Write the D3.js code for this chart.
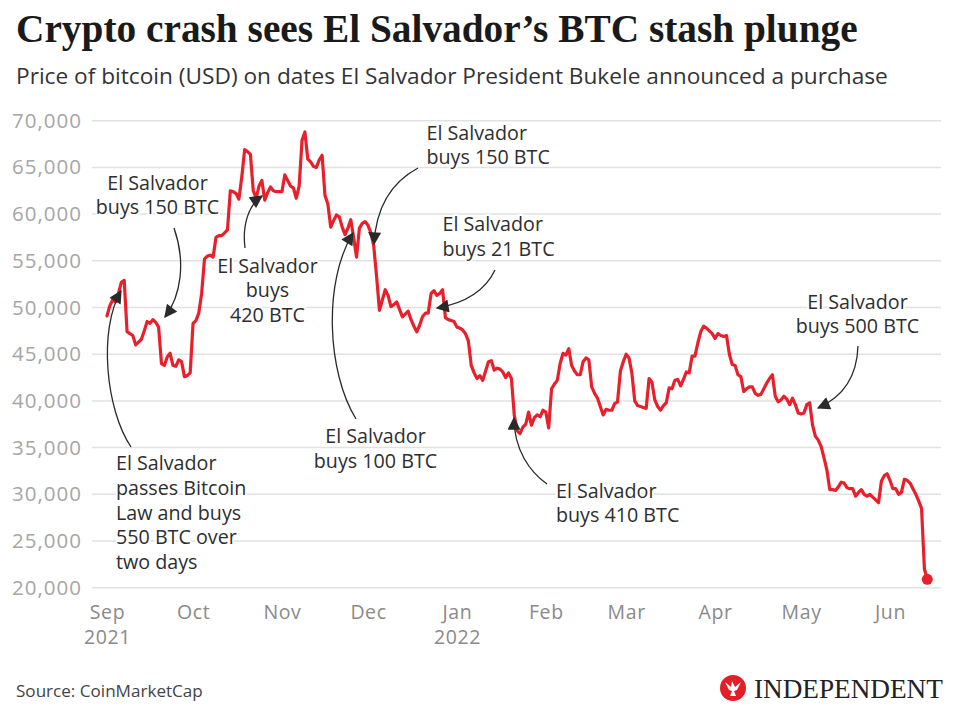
<!DOCTYPE html>
<html>
<head>
<meta charset="utf-8">
<script src="https://cdn.jsdelivr.net/npm/d3@7"></script>
<style>
  html, body { margin: 0; padding: 0; background: #fff; }
  svg { display: block; }
</style>
</head>
<body>
<svg id="chart" width="960" height="720"></svg>
<script>
// ---------------- DATA ----------------
const titleText = "Crypto crash sees El Salvador\u2019s BTC stash plunge";
const subtitleText = "Price of bitcoin (USD) on dates El Salvador President Bukele announced a purchase";
const sourceText = "Source: CoinMarketCap";
const startDate = "2021-09-01";
// daily price in thousands of USD, one per day from startDate
const pricesK = [
  // Sep 2021
  49.1, 50.2, 50.8, 50.6, 51.5, 52.7, 52.9, 47.4, 47.2, 47.0,
  46.0, 46.3, 46.6, 47.5, 48.5, 48.3, 48.7, 48.4, 47.9, 44.0,
  43.8, 44.7, 45.1, 43.8, 43.7, 44.4, 44.2, 42.6, 42.7, 43.0,
  // Oct
  48.3, 48.6, 49.4, 51.5, 55.2, 55.5, 55.6, 55.4, 57.5, 57.7,
  57.7, 58.0, 58.3, 62.5, 62.4, 62.2, 61.6, 64.0, 66.9, 66.7,
  66.4, 62.5, 61.7, 63.0, 63.6, 61.5, 62.3, 62.9, 62.5, 62.4,
  62.4,
  // Nov
  62.4, 64.2, 63.6, 63.0, 62.8, 61.7, 63.0, 67.9, 68.8, 65.9,
  65.6, 65.1, 65.0, 65.8, 66.3, 62.0, 61.1, 58.6, 59.3, 59.9,
  59.7, 58.6, 57.8, 58.5, 59.4, 57.5, 55.4, 58.5, 59.0, 59.2,
  // Dec
  58.8, 58.0, 56.6, 53.3, 49.7, 50.8, 51.9, 51.3, 50.1, 50.3,
  50.6, 49.8, 49.0, 49.3, 49.6, 48.7, 48.0, 47.4, 48.1, 49.0,
  49.4, 49.4, 51.5, 51.8, 51.3, 51.5, 51.9, 48.9, 48.7, 48.6,
  48.5,
  // Jan 2022
  47.9, 47.8, 47.6, 47.2, 46.4, 43.8, 43.0, 42.4, 42.7, 42.2,
  43.2, 44.2, 44.3, 43.3, 43.5, 43.4, 43.1, 42.5, 43.0, 42.4,
  38.5, 36.8, 36.5, 37.2, 37.5, 38.8, 37.4, 38.2, 38.5, 38.3,
  39.0,
  // Feb
  38.8, 37.1, 41.3, 41.8, 42.2, 44.0, 45.1, 44.9, 45.6, 43.8,
  43.2, 42.8, 42.8, 44.2, 44.6, 44.4, 41.5, 40.8, 40.3, 39.4,
  38.5, 39.1, 39.0, 39.0, 39.7, 39.9, 43.2, 44.2,
  // Mar
  45.0, 44.6, 43.0, 40.0, 39.5, 39.4, 39.3, 39.2, 42.4, 42.0,
  40.1, 39.4, 39.0, 39.5, 39.8, 41.4, 41.3, 42.2, 42.3, 41.6,
  42.3, 43.1, 43.0, 44.8, 44.8, 46.2, 47.4, 48.0, 47.8, 47.5,
  47.2,
  // Apr
  46.7, 47.2, 47.0, 46.9, 47.0, 45.0, 43.9, 43.8, 42.8, 42.6,
  41.0, 41.3, 41.5, 41.5, 40.8, 40.6, 40.7, 41.3, 41.9, 42.4,
  42.8, 40.5, 39.9, 40.1, 40.5, 40.2, 39.6, 40.3, 39.6, 38.7,
  // May
  38.6, 38.7, 39.6, 39.8, 37.4, 36.2, 35.8, 35.1, 33.9, 32.6,
  30.5, 30.5, 30.4, 30.8, 31.3, 31.2, 30.7, 30.6, 30.6, 29.8,
  30.2, 30.5, 30.0, 29.8, 30.0, 29.7, 29.4, 29.1, 31.4, 32.0,
  32.2,
  // Jun
  31.5, 30.6, 30.6, 30.0, 30.2, 31.6, 31.5, 31.2, 30.6, 30.0,
  29.3, 28.5, 22.0, 20.9
];
const yTicks = [20000, 25000, 30000, 35000, 40000, 45000, 50000, 55000, 60000, 65000, 70000];
const monthTicks = ["2021-09-01","2021-10-01","2021-11-01","2021-12-01","2022-01-01","2022-02-01","2022-03-01","2022-04-01","2022-05-01","2022-06-01"];
const yearLabels = { "2021-09-01": "2021", "2022-01-01": "2022" };

// annotation layout (pixel space)
const annotations = [
  { lines: ["El Salvador", "passes Bitcoin", "Law and buys", "550 BTC over", "two days"], x: 116, y: 463.5, anchor: "start",
    path: "M131,447 C106,410 98,330 121,291" },
  { lines: ["El Salvador", "buys 150 BTC"], x: 157.5, y: 183, anchor: "middle",
    path: "M174,228 C186,262 181,296 165,317" },
  { lines: ["El Salvador", "buys", "420 BTC"], x: 267.5, y: 266, anchor: "middle",
    path: "M245,248 C242,224 249,205 262,196" },
  { lines: ["El Salvador", "buys 150 BTC"], x: 426.5, y: 133, anchor: "start",
    path: "M418,168 C392,182 376,207 374,244" },
  { lines: ["El Salvador", "buys 21 BTC"], x: 442.5, y: 224.5, anchor: "start",
    path: "M495,270 C485,291 466,303 437,308" },
  { lines: ["El Salvador", "buys 100 BTC"], x: 375.5, y: 436.5, anchor: "middle",
    path: "M356,419 C327,372 323,282 353,233" },
  { lines: ["El Salvador", "buys 410 BTC"], x: 556, y: 491, anchor: "start",
    path: "M547,484 C530,472 514,450 514,418" },
  { lines: ["El Salvador", "buys 500 BTC"], x: 857.5, y: 302, anchor: "middle",
    path: "M858,346 C857,376 843,397 818,408" }
];

// ---------------- CHART ----------------
const svg = d3.select("#chart");
const parse = d3.utcParse("%Y-%m-%d");
const start = parse(startDate);
const data = pricesK.map((v, i) => ({ date: d3.utcDay.offset(start, i), value: v * 1000 }));

const x = d3.scaleUtc()
  .domain([parse("2021-09-01"), parse("2022-06-01")])
  .range([107, 890]);
const y = d3.scaleLinear().domain([20000, 70000]).range([587.7, 120.7]);

const SANS = "'Open Sans', Lato, sans-serif";

function fitText(sel, width) {
  const w = sel.node().getComputedTextLength();
  const fs = parseFloat(sel.attr("font-size"));
  sel.attr("font-size", fs * width / w);
}
const title = svg.append("text")
  .attr("x", 16).attr("y", 42)
  .attr("font-family", "'Liberation Serif', 'DejaVu Serif', serif")
  .attr("font-weight", "bold")
  .attr("font-size", 36)
  .attr("fill", "#1a1a1a")
  .text(titleText);
fitText(title, 842);

const subtitle = svg.append("text")
  .attr("x", 16).attr("y", 84)
  .attr("font-family", SANS)
  .attr("font-size", 20)
  .attr("fill", "#333")
  .text(subtitleText);
fitText(subtitle, 872);

// Gridlines
const grid = svg.append("g");
grid.selectAll("line").data(yTicks).join("line")
  .attr("x1", 92).attr("x2", 941)
  .attr("y1", d => y(d)).attr("y2", d => y(d))
  .attr("stroke", "#e2e2e2").attr("stroke-width", 1.5);

// Y axis labels
const yAxis = svg.append("g").attr("transform", "translate(82,0)")
  .call(d3.axisLeft(y).tickValues(yTicks).tickSize(0).tickPadding(0).tickFormat(d3.format(",")));
yAxis.select(".domain").remove();
yAxis.selectAll("text")
  .attr("font-family", SANS).attr("font-size", 20.5).attr("letter-spacing", 1)
  .attr("fill", "#a6a6a6");

// X axis labels
const xAxis = svg.append("g").attr("transform", "translate(0,602)")
  .call(d3.axisBottom(x).tickValues(monthTicks.map(parse)).tickSize(0).tickPadding(0)
    .tickFormat(d3.utcFormat("%b")));
xAxis.select(".domain").remove();
xAxis.selectAll("text")
  .attr("font-family", SANS).attr("font-size", 19.5).attr("letter-spacing", 0.6)
  .attr("fill", "#8a8a8a")
  .attr("dy", "0.85em");
xAxis.selectAll(".tick").each(function(d) {
  const key = d3.utcFormat("%Y-%m-%d")(d);
  if (yearLabels[key]) {
    d3.select(this).append("text")
      .attr("y", 25.5).attr("dy", "0.85em")
      .attr("font-family", SANS).attr("font-size", 19.5).attr("letter-spacing", 0.6)
      .attr("fill", "#8a8a8a")
      .attr("text-anchor", "middle")
      .text(yearLabels[key]);
  }
});

// Line
const line = d3.line().x(d => x(d.date)).y(d => y(d.value)).curve(d3.curveLinear);
svg.append("path").datum(data)
  .attr("d", line)
  .attr("fill", "none")
  .attr("stroke", "#e8202b")
  .attr("stroke-width", 3.2)
  .attr("stroke-linejoin", "round")
  .attr("stroke-linecap", "round");
const last = data[data.length - 1];
svg.append("circle")
  .attr("cx", x(last.date)).attr("cy", y(last.value)).attr("r", 5.5)
  .attr("fill", "#e8202b");

// Annotations
const defs = svg.append("defs");
defs.append("marker")
  .attr("id", "arrow").attr("viewBox", "0 0 10 10")
  .attr("refX", 9).attr("refY", 5)
  .attr("markerUnits", "userSpaceOnUse")
  .attr("markerWidth", 15).attr("markerHeight", 13)
  .attr("orient", "auto")
  .append("path").attr("d", "M0,0 L10,5 L0,10 Z").attr("fill", "#2a2a2a");

const ann = svg.append("g");
annotations.forEach(a => {
  ann.append("path")
    .attr("d", a.path)
    .attr("fill", "none")
    .attr("stroke", "#2a2a2a")
    .attr("stroke-width", 1.3)
    .attr("marker-end", "url(#arrow)");
  const t = ann.append("text")
    .attr("font-family", SANS).attr("font-size", 19.7)
    .attr("fill", "#2e2e2e")
    .attr("text-anchor", a.anchor)
    .attr("stroke", "#fff").attr("stroke-width", 4).attr("paint-order", "stroke")
    .attr("stroke-linejoin", "round");
  a.lines.forEach((l, i) => {
    t.append("tspan").attr("x", a.x).attr("y", a.y + i * 24.6).attr("dy", "0.35em").text(l);
  });
});

// Source
const src = svg.append("text")
  .attr("x", 16).attr("y", 697)
  .attr("font-family", SANS).attr("font-size", 16)
  .attr("fill", "#444")
  .text(sourceText);
fitText(src, 187);

// Logo
const logo = svg.append("g").attr("transform", "translate(733,688)");
logo.append("circle").attr("r", 13).attr("fill", "#e41e26");
logo.append("path")
  .attr("d", "M-8,-6 L-2,-1 L-1,-7 L2,-1 L8,-6 L4,2 L1,3 L3,8 L-3,8 L-1,3 L-4,2 Z")
  .attr("fill", "#fff");
const logoText = svg.append("text")
  .attr("x", 754).attr("y", 697.5)
  .attr("font-family", "'Liberation Serif', 'DejaVu Serif', serif")
  .attr("font-size", 22)
  .attr("fill", "#222")
  .text("INDEPENDENT");
fitText(logoText, 189);
</script>
</body>
</html>
